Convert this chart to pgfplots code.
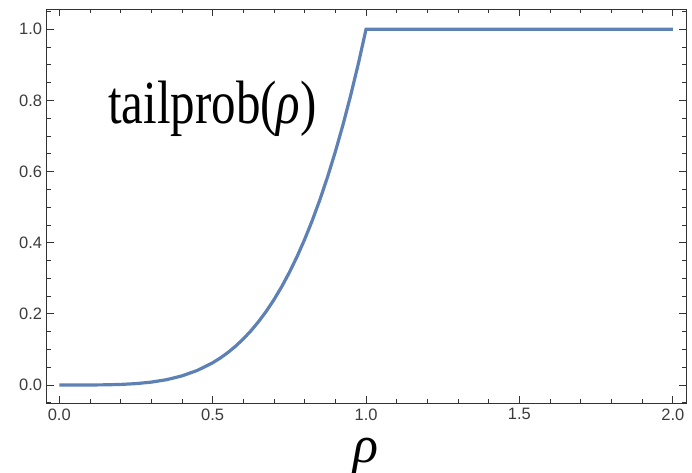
\documentclass[border=0pt]{standalone}
\usepackage{fontspec}
\setmainfont{Liberation Sans}
\newfontfamily\timesfont{Liberation Serif}
\usepackage{pgfplots}
\pgfplotsset{compat=1.18}
\definecolor{mmablue}{RGB}{94,129,181}
\definecolor{framegray}{RGB}{51,51,51}
\definecolor{ticktext}{RGB}{60,60,60}
\begin{document}
\begin{tikzpicture}
\path[use as bounding box] (-46.7pt,-69pt) rectangle (645.3pt,403pt);
\begin{axis}[
  scale only axis, width=639.3pt, height=394pt,
  xmin=-0.041, xmax=2.043, ymin=-0.0506, ymax=1.057,
  clip=false,
  axis line style={framegray, line width=0.9pt},
  xtick={0,0.5,1,1.5,2},
  ytick={0,0.2,0.4,0.6,0.8,1},
  minor xtick={0.1,0.2,0.3,0.4,0.6,0.7,0.8,0.9,1.1,1.2,1.3,1.4,1.6,1.7,1.8,1.9},
  minor ytick={-0.05,0.05,0.1,0.15,0.25,0.3,0.35,0.45,0.5,0.55,0.65,0.7,0.75,0.85,0.9,0.95,1.05},
  tick align=inside,
  major tick length=7pt, minor tick length=4pt,
  every tick/.style={framegray, line width=0.8pt},
  tick label style={font=\fontsize{16.5}{16.5}\selectfont, text=ticktext},
  /pgf/number format/assume math mode=true,
  /pgf/number format/fixed, /pgf/number format/fixed zerofill,
  /pgf/number format/precision=1,
  xticklabel style={yshift=-2pt},
  yticklabel style={xshift=-1pt},
]
\addplot[color=mmablue, line width=3.2pt, line join=miter] coordinates {
  (0,0) (0.05,0.00000625) (0.1,0.0001) (0.15,0.000506) (0.2,0.0016)
  (0.25,0.003906) (0.3,0.0081) (0.35,0.015006) (0.4,0.0256) (0.45,0.041006)
  (0.5,0.0625) (0.525,0.075969) (0.55,0.091506) (0.575,0.109313) (0.6,0.1296)
  (0.625,0.152588) (0.65,0.178506) (0.675,0.207594) (0.7,0.2401)
  (0.725,0.276282) (0.75,0.316406) (0.775,0.36075) (0.8,0.4096)
  (0.825,0.46325) (0.85,0.522006) (0.875,0.586182) (0.9,0.6561)
  (0.925,0.732094) (0.95,0.814506) (0.975,0.903688) (1,1) (2,1)
};
\node[anchor=base west, inner sep=0pt, xshift=61.3pt, yshift=280pt, yscale=1.25,
  font=\timesfont\fontsize{49}{55}\selectfont]
  at (rel axis cs:0,0) {tailprob(\textit{ρ})};
\node[anchor=base, inner sep=0pt, yshift=-59pt,
  font=\timesfont\itshape\fontsize{52}{52}\selectfont]
  at (rel axis cs:0.5,0) {ρ};
\end{axis}
\end{tikzpicture}
\end{document}
